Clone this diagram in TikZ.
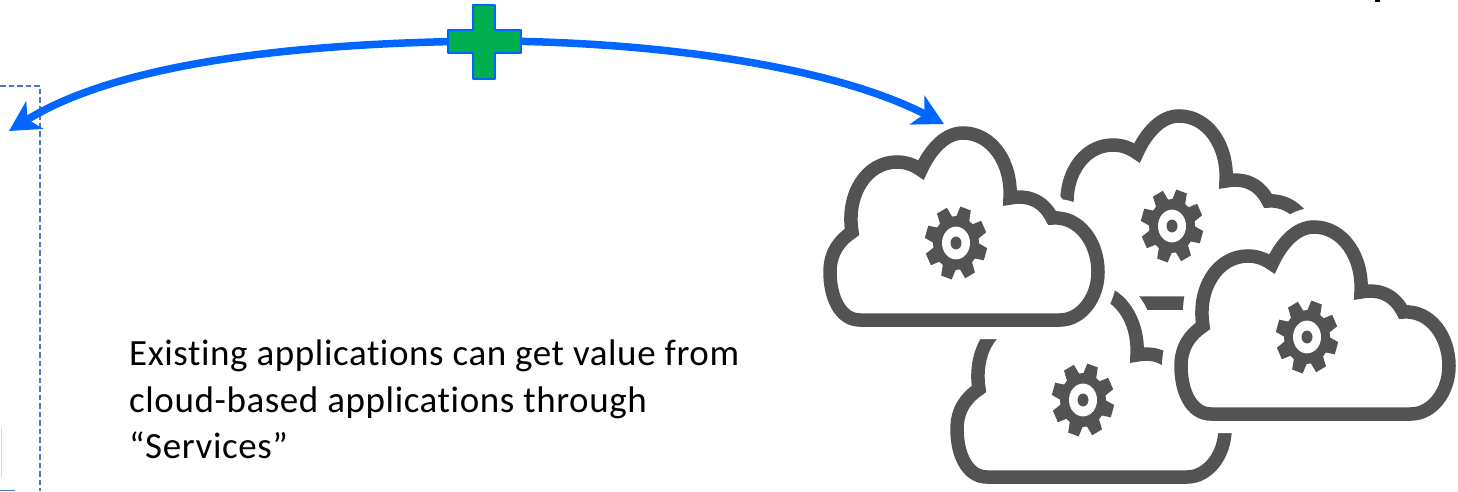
\documentclass[tikz,border=0pt]{standalone}
\usepackage{fontspec}
\setmainfont{Carlito}[Ligatures=NoCommon, LetterSpace=1.6]
\usetikzlibrary{arrows.meta}
\definecolor{cloudgray}{HTML}{535351}
\definecolor{linkblue}{HTML}{0066FF}
\definecolor{plusgreen}{HTML}{00B050}
\definecolor{dashblue}{HTML}{4A78C0}
\newcommand{\cloudoutline}{(-96,77) .. controls (-116,77) and (-126,54) .. (-126,29)
  .. controls (-126,9) and (-116,-3) .. (-104,-11)
  .. controls (-110,-48) and (-90,-81) .. (-59,-81)
  .. controls (-50,-81) and (-42,-78) .. (-35,-73)
  .. controls (-25,-95) and (-10,-110) .. (7,-110)
  .. controls (36,-110) and (56,-80) .. (54,-45)
  .. controls (68,-48) and (86,-45) .. (96,-25)
  .. controls (124,-27) and (142,0) .. (142,29)
  .. controls (142,55) and (125,77) .. (104,77) -- cycle}
\tikzset{
  link/.style = {line width = 7.5, linkblue, -{Stealth[length = 30, width = 32, inset = 8]}},
  plusmark/.style = {draw = linkblue, fill = plusgreen, line width = 2, line join = round},
  dashline/.style = {dashblue, line width = 2, dash pattern = on 5.5 off 3},
  gearcloud/.pic = {
    \fill [white] \cloudoutline;
    \draw [white, line width = 38, line join = round] \cloudoutline;
    \draw [cloudgray, line width = 13.5, miter limit = 10] \cloudoutline;
    \begin{scope}[yscale = 1.17]
      \fill [cloudgray] (0, 0) circle (23);
      \foreach \a in {27, 72, 117, 162, 207, 252, 297, 342} {
        \fill [cloudgray, rotate = \a] (20, -7) -- (31, -5.5) -- (31, 5.5) -- (20, 7) -- cycle;
      }
      \fill [white] (0, 0) circle (14);
      \fill [cloudgray] (0, 0) circle (5.5);
    \end{scope}
  }
}

\begin{document}
\begin{tikzpicture}[x = 1pt, y = -1pt]
  \useasboundingbox (0, 0) rectangle (1458, 491);
  \pic (cloudback) at (1172, 226) {gearcloud};
  \pic (cloudlow) at (1083, 400) {gearcloud};
  \pic (cloudleft) at (956, 243) {gearcloud};
  \pic (cloudright) at (1307, 337) {gearcloud};

  \draw [dashline] (0, 86) -- (40, 86) -- (40, 491);
  \draw [gray!30, line width = 1] (1, 427) -- (1, 478);
  \draw [dashblue, line width = 1.3] (0, 490.4) -- (15, 490.4);
  \fill (1375, 0) rectangle (1380, 1.5);

  \coordinate (plus) at (484, 41);
  \coordinate (leftend) at (9, 131);
  \coordinate (rightend) at (944, 124);
  \draw [link] (plus) .. controls (300, 43) and (120, 62) .. (leftend);
  \draw [link] (plus) .. controls (650, 41) and (830, 65) .. (rightend);
  \draw [plusmark] (plus) ++(-11, -36) -- ++(22, 0) -- ++(0, 25) -- ++(26, 0) -- ++(0, 23)
    -- ++(-26, 0) -- ++(0, 26) -- ++(-22, 0) -- ++(0, -26) -- ++(-25, 0) -- ++(0, -23)
    -- ++(25, 0) -- cycle;

  \node (existing) [anchor = north west, inner sep = 0, align = left,
    font = \fontsize{37}{46.5}\selectfont] at (129, 340)
    {Existing applications can get value from\\cloud-based applications through\\“Services”};
\end{tikzpicture}
\end{document}
